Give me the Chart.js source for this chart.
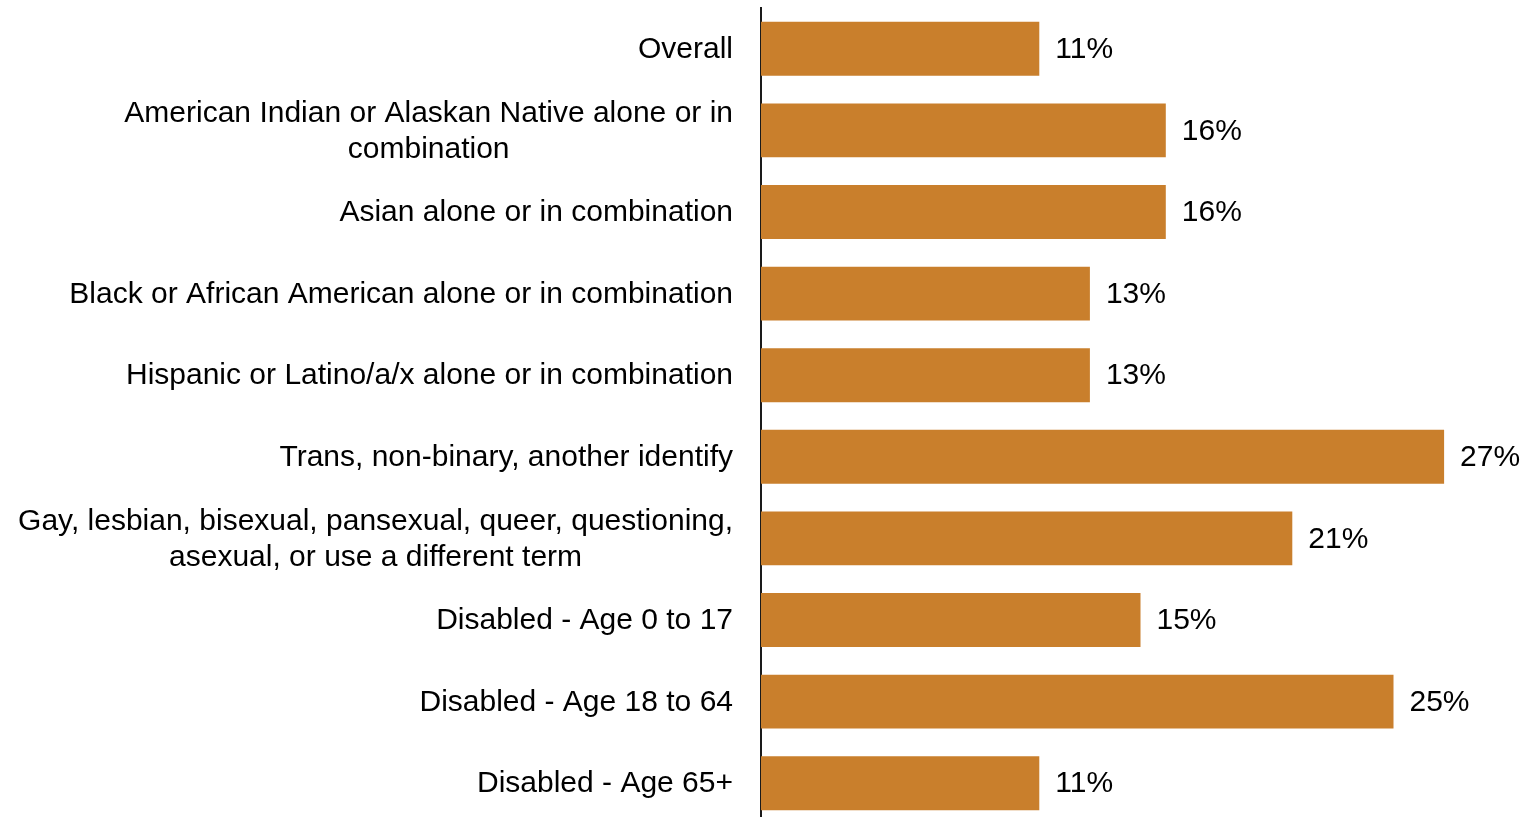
<!DOCTYPE html>
<html>
<head>
<meta charset="utf-8">
<script src="https://cdn.jsdelivr.net/npm/chart.js@4/dist/chart.umd.min.js"></script>
<style>
  html, body { margin: 0; padding: 0; background: #fff; overflow: hidden; }
  #wrap { position: relative; width: 1521px; height: 824px; }
</style>
</head>
<body>
<div id="wrap"><canvas id="chart"></canvas></div>
<script>
// Share of each group, in percent
const groups = [
  ['Overall'],
  ['American Indian or Alaskan Native alone or in', 'combination'],
  ['Asian alone or in combination'],
  ['Black or African American alone or in combination'],
  ['Hispanic or Latino/a/x alone or in combination'],
  ['Trans, non-binary, another identify'],
  ['Gay, lesbian, bisexual, pansexual, queer, questioning,', 'asexual, or use a different term'],
  ['Disabled - Age 0 to 17'],
  ['Disabled - Age 18 to 64'],
  ['Disabled - Age 65+'],
];
const shares = [11, 16, 16, 13, 13, 27, 21, 15, 25, 11];

const BAR_COLOR = '#C97F2C';
const FONT = '30px "Liberation Sans", Arial, sans-serif';
const AXIS_LEFT = 761;

// Category labels: block right-aligned to the axis, lines centred on each other
const groupLabels = {
  id: 'groupLabels',
  afterDraw(chart) {
    const { ctx } = chart;
    const yScale = chart.scales.y;
    const right = chart.chartArea.left - 28;
    const lineH = 36;
    ctx.save();
    ctx.font = FONT;
    ctx.fillStyle = '#000';
    ctx.textBaseline = 'middle';
    ctx.textAlign = 'center';
    groups.forEach((lines, i) => {
      const y = yScale.getPixelForValue(i) + 1;
      const w = Math.max(...lines.map(l => ctx.measureText(l).width));
      const cx = right - w / 2;
      const y0 = y - (lines.length - 1) * lineH / 2;
      lines.forEach((l, j) => ctx.fillText(l, cx, y0 + j * lineH));
    });
    ctx.restore();
  }
};

// Percent labels at the end of each bar
const valueLabels = {
  id: 'valueLabels',
  afterDatasetsDraw(chart) {
    const { ctx } = chart;
    const meta = chart.getDatasetMeta(0);
    ctx.save();
    ctx.font = FONT;
    ctx.fillStyle = '#000';
    ctx.textBaseline = 'middle';
    ctx.textAlign = 'left';
    meta.data.forEach((bar, i) => {
      ctx.fillText(shares[i] + '%', bar.x + 16, bar.y + 1);
    });
    ctx.restore();
  }
};

new Chart(document.getElementById('chart'), {
  type: 'bar',
  data: {
    labels: groups.map(g => g.join(' ')),
    datasets: [{
      data: shares,
      backgroundColor: BAR_COLOR,
      borderWidth: 0,
      barPercentage: 0.66,
      categoryPercentage: 1,
    }],
  },
  options: {
    indexAxis: 'y',
    responsive: true,
    maintainAspectRatio: false,
    animation: false,
    layout: { padding: { top: 8, right: 1, bottom: 0, left: 0 } },
    plugins: { legend: { display: false }, tooltip: { enabled: false } },
    scales: {
      x: { display: false, min: 0, max: 30 },
      y: {
        grid: { display: false },
        border: { display: true, color: '#1a1a1a', width: 2 },
        ticks: { display: false },
        afterFit(scale) { scale.width = AXIS_LEFT; },
      },
    },
  },
  plugins: [groupLabels, valueLabels],
});
</script>
</body>
</html>
